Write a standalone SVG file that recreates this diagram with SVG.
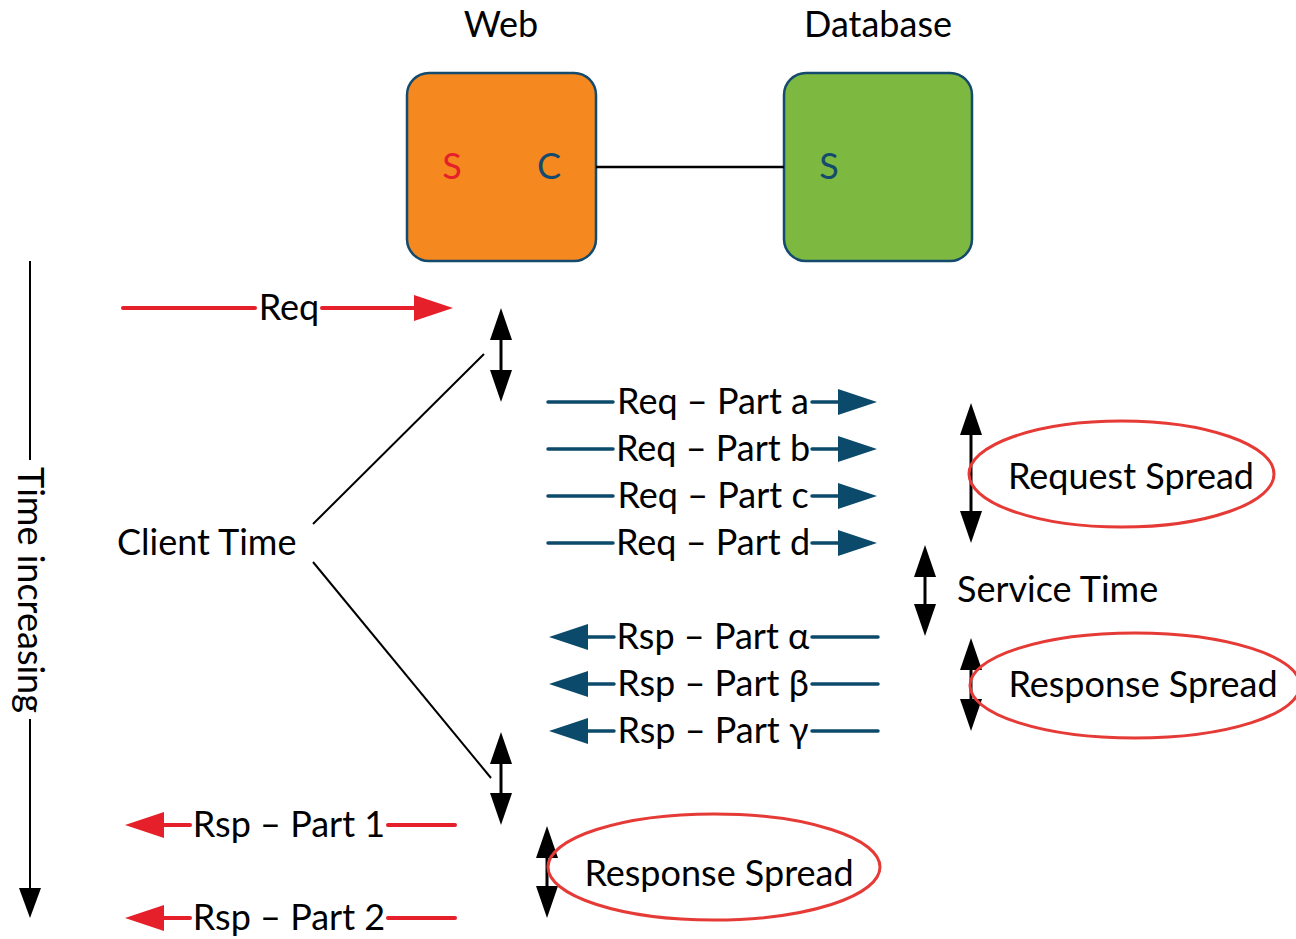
<svg xmlns="http://www.w3.org/2000/svg" width="1296" height="939" viewBox="0 0 1296 939">
  <style>
    text { font-family: Lato, "Open Sans", "Liberation Sans", sans-serif; font-size: 36px; fill: #000; }
    .mid { text-anchor: middle; }
    .red { stroke: #E5202A; stroke-width: 4; stroke-linecap: round; fill: none; }
    .blue { stroke: #0C4A6B; stroke-width: 3.5; stroke-linecap: round; fill: none; }
    .blk { stroke: #000; stroke-width: 3; fill: none; }
    .thin { stroke: #000; stroke-width: 2; fill: none; }
    .spread { fill: none; stroke: #E53A36; stroke-width: 3; }
    .box { stroke: #134A6E; stroke-width: 2.5; }
  </style>
  <defs>
    <marker id="headRed" markerUnits="userSpaceOnUse" markerWidth="39" markerHeight="26" refX="0" refY="13" orient="auto" overflow="visible">
      <path d="M0,0 L39,13 L0,26 Z" fill="#E5202A"/>
    </marker>
    <marker id="headBlue" markerUnits="userSpaceOnUse" markerWidth="39" markerHeight="26" refX="0" refY="13" orient="auto" overflow="visible">
      <path d="M0,0 L39,13 L0,26 Z" fill="#0C4A6B"/>
    </marker>
    <marker id="headBlk" markerUnits="userSpaceOnUse" markerWidth="32" markerHeight="22" refX="0" refY="11" orient="auto-start-reverse" overflow="visible">
      <path d="M0,0 L32,11 L0,22 Z" fill="#000"/>
    </marker>
    <marker id="headTime" markerUnits="userSpaceOnUse" markerWidth="30" markerHeight="22" refX="0" refY="11" orient="auto" overflow="visible">
      <path d="M0,0 L30,11 L0,22 Z" fill="#000"/>
    </marker>
  </defs>

  <!-- tiers -->
  <g id="web">
    <text class="mid" x="501" y="37">Web</text>
    <rect class="box" x="407" y="73" width="189" height="188" rx="22" fill="#F5881F"/>
    <text class="mid" x="452" y="179" fill="#E5202A" style="fill:#E5202A">S</text>
    <text class="mid" x="549" y="179" style="fill:#134A6E">C</text>
  </g>
  <g id="database">
    <text class="mid" x="878" y="37">Database</text>
    <rect class="box" x="784" y="73" width="188" height="188" rx="22" fill="#7DB941"/>
    <text class="mid" x="829" y="179" style="fill:#134A6E">S</text>
  </g>

  <g id="connectors">
    <!-- web client to database server -->
    <line x1="596" y1="167" x2="784" y2="167" stroke="#000" stroke-width="2.5"/>

    <!-- time axis -->
    <line class="thin" x1="30" y1="261" x2="30" y2="460"/>
    <line class="thin" x1="30" y1="719" x2="30" y2="888" marker-end="url(#headTime)"/>

    <!-- client request -->
    <line class="red" x1="123" y1="308" x2="255" y2="308"/>
    <line class="red" x1="322" y1="308" x2="414" y2="308" marker-end="url(#headRed)"/>

    <!-- request parts to database -->
    <line class="blue" x1="548" y1="402" x2="613" y2="402"/>
    <line class="blue" x1="812" y1="402" x2="838" y2="402" marker-end="url(#headBlue)"/>
    <line class="blue" x1="548" y1="449" x2="613" y2="449"/>
    <line class="blue" x1="812" y1="449" x2="838" y2="449" marker-end="url(#headBlue)"/>
    <line class="blue" x1="548" y1="496" x2="613" y2="496"/>
    <line class="blue" x1="812" y1="496" x2="838" y2="496" marker-end="url(#headBlue)"/>
    <line class="blue" x1="548" y1="543" x2="613" y2="543"/>
    <line class="blue" x1="812" y1="543" x2="838" y2="543" marker-end="url(#headBlue)"/>

    <!-- response parts from database -->
    <line class="blue" x1="878" y1="637" x2="812" y2="637"/>
    <line class="blue" x1="614" y1="637" x2="588" y2="637" marker-end="url(#headBlue)"/>
    <line class="blue" x1="878" y1="684" x2="812" y2="684"/>
    <line class="blue" x1="614" y1="684" x2="588" y2="684" marker-end="url(#headBlue)"/>
    <line class="blue" x1="878" y1="731" x2="812" y2="731"/>
    <line class="blue" x1="614" y1="731" x2="588" y2="731" marker-end="url(#headBlue)"/>

    <!-- responses to client -->
    <line class="red" x1="455" y1="825" x2="388" y2="825"/>
    <line class="red" x1="190" y1="825" x2="164" y2="825" marker-end="url(#headRed)"/>
    <line class="red" x1="455" y1="918" x2="388" y2="918"/>
    <line class="red" x1="190" y1="918" x2="164" y2="918" marker-end="url(#headRed)"/>

    <!-- client time brackets -->
    <line class="thin" x1="484" y1="354" x2="313" y2="524"/>
    <line class="thin" x1="313" y1="562" x2="491" y2="778"/>

    <!-- interval markers -->
    <line class="blk" x1="501" y1="340" x2="501" y2="370" marker-start="url(#headBlk)" marker-end="url(#headBlk)"/>
    <line class="blk" x1="501" y1="764" x2="501" y2="793" marker-start="url(#headBlk)" marker-end="url(#headBlk)"/>
    <line class="blk" x1="971" y1="435" x2="971" y2="511" marker-start="url(#headBlk)" marker-end="url(#headBlk)"/>
    <line class="blk" x1="925" y1="577" x2="925" y2="604" marker-start="url(#headBlk)" marker-end="url(#headBlk)"/>
    <line class="blk" x1="971" y1="670" x2="971" y2="699" marker-start="url(#headBlk)" marker-end="url(#headBlk)"/>
    <line class="blk" x1="547" y1="858" x2="547" y2="886" marker-start="url(#headBlk)" marker-end="url(#headBlk)"/>
  </g>

  <!-- labels -->
  <g id="time-axis-label">
    <text class="mid" transform="translate(18,590) rotate(90)" x="0" y="0">Time increasing</text>
  </g>
  <g id="req-label"><text class="mid" x="289" y="320">Req</text></g>
  <g id="req-parts">
    <text class="mid" x="713" y="414">Req – Part a</text>
    <text class="mid" x="713" y="461">Req – Part b</text>
    <text class="mid" x="713" y="508">Req – Part c</text>
    <text class="mid" x="713" y="555">Req – Part d</text>
  </g>
  <g id="rsp-parts">
    <text class="mid" x="713" y="649">Rsp – Part α</text>
    <text class="mid" x="713" y="696">Rsp – Part β</text>
    <text class="mid" x="713" y="743">Rsp – Part γ</text>
  </g>
  <g id="client-rsp">
    <text class="mid" x="289" y="837">Rsp – Part 1</text>
    <text class="mid" x="289" y="930">Rsp – Part 2</text>
  </g>
  <g id="client-time"><text x="117" y="555">Client Time</text></g>
  <g id="service-time"><text x="957" y="602">Service Time</text></g>

  <g id="request-spread">
    <ellipse class="spread" cx="1121.5" cy="474" rx="152.5" ry="53"/>
    <text class="mid" x="1131" y="489">Request Spread</text>
  </g>
  <g id="db-response-spread">
    <ellipse class="spread" cx="1135" cy="685.5" rx="165" ry="52.5"/>
    <text class="mid" x="1143" y="697">Response Spread</text>
  </g>
  <g id="client-response-spread">
    <ellipse class="spread" cx="714" cy="867" rx="166" ry="53"/>
    <text class="mid" x="719" y="886">Response Spread</text>
  </g>
</svg>
